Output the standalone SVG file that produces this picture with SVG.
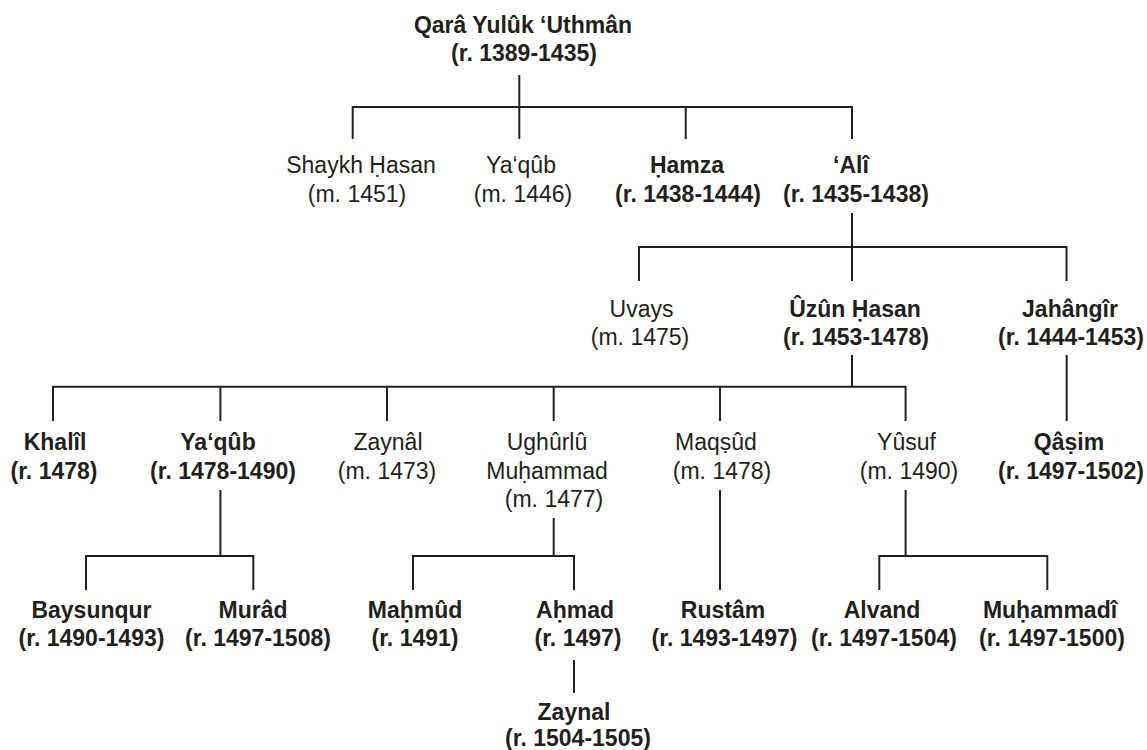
<svg xmlns="http://www.w3.org/2000/svg" width="1147" height="750" viewBox="0 0 1147 750">
<style>
text{font-family:"Liberation Sans",Arial,"DejaVu Sans",sans-serif;fill:#231f20;text-anchor:middle;font-size:23px}
.b{font-weight:bold}
.c{fill:none;stroke:#231f20;stroke-width:2;stroke-linejoin:miter}
</style>
<rect width="1147" height="750" fill="#fff"/>
<g id="connectors" class="c">
<path d="M519.3 75V107"/>
<path d="M352.7 139V107H852V139M519.3 107V139M685.7 107V139"/>
<path d="M852 213V247"/>
<path d="M639 281V247H1066.5V281M852 247V281"/>
<path d="M852 355V386.7"/>
<path d="M53 421V386.7H905.6V421M220.4 386.7V421M387 386.7V421M553.7 386.7V421M720 386.7V421"/>
<path d="M1066.7 355V421"/>
<path d="M220.4 490V556"/>
<path d="M86 590V556H253.3V590"/>
<path d="M553.7 518V556"/>
<path d="M413 590V556H574V590"/>
<path d="M720 490V590"/>
<path d="M905.6 490V556"/>
<path d="M879.3 590V556H1047.3V590"/>
<path d="M574 660V693"/>
</g>
<g id="qara-yuluk-uthman">
<text class="b" x="523" y="33">Qarâ Yulûk ‘Uthmân</text>
<text class="b" x="524" y="61">(r. 1389-1435)</text>
</g>
<g id="shaykh-hasan">
<text x="361" y="173">Shaykh Ḥasan</text>
<text x="357" y="201.5">(m. 1451)</text>
</g>
<g id="yaqub-1">
<text x="521" y="173">Ya‘qûb</text>
<text x="523" y="201.5">(m. 1446)</text>
</g>
<g id="hamza">
<text class="b" x="687" y="173">Ḥamza</text>
<text class="b" x="688" y="201.5">(r. 1438-1444)</text>
</g>
<g id="ali">
<text class="b" x="851" y="173">‘Alî</text>
<text class="b" x="856" y="201.5">(r. 1435-1438)</text>
</g>
<g id="uvays">
<text x="641.5" y="317">Uvays</text>
<text x="640" y="345">(m. 1475)</text>
</g>
<g id="uzun-hasan">
<text class="b" x="855" y="317">Ûzûn Ḥasan</text>
<text class="b" x="856" y="345">(r. 1453-1478)</text>
</g>
<g id="jahangir">
<text class="b" x="1070" y="317">Jahângîr</text>
<text class="b" x="1071" y="345">(r. 1444-1453)</text>
</g>
<g id="khalil">
<text class="b" x="55" y="450">Khalîl</text>
<text class="b" x="54" y="478.5">(r. 1478)</text>
</g>
<g id="yaqub-2">
<text class="b" x="218" y="450">Ya‘qûb</text>
<text class="b" x="223" y="478.5">(r. 1478-1490)</text>
</g>
<g id="zaynal-1">
<text x="388" y="450">Zaynâl</text>
<text x="387" y="478.5">(m. 1473)</text>
</g>
<g id="ughurlu-muhammad">
<text x="547" y="450">Ughûrlû</text>
<text x="547" y="478.5">Muḥammad</text>
<text x="554" y="507">(m. 1477)</text>
</g>
<g id="maqsud">
<text x="716" y="450">Maqṣûd</text>
<text x="722" y="478.5">(m. 1478)</text>
</g>
<g id="yusuf">
<text x="906.5" y="450">Yûsuf</text>
<text x="909" y="478.5">(m. 1490)</text>
</g>
<g id="qasim">
<text class="b" x="1069" y="450">Qâṣim</text>
<text class="b" x="1071" y="478.5">(r. 1497-1502)</text>
</g>
<g id="baysunqur">
<text class="b" x="91.5" y="618">Baysunqur</text>
<text class="b" x="91.5" y="646">(r. 1490-1493)</text>
</g>
<g id="murad">
<text class="b" x="253" y="618">Murâd</text>
<text class="b" x="258" y="646">(r. 1497-1508)</text>
</g>
<g id="mahmud">
<text class="b" x="415" y="618">Maḥmûd</text>
<text class="b" x="415" y="646">(r. 1491)</text>
</g>
<g id="ahmad">
<text class="b" x="575" y="618">Aḥmad</text>
<text class="b" x="578" y="646">(r. 1497)</text>
</g>
<g id="zaynal-2">
<text class="b" x="574" y="720">Zaynal</text>
<text class="b" x="578" y="746">(r. 1504-1505)</text>
</g>
<g id="rustam">
<text class="b" x="723" y="618">Rustâm</text>
<text class="b" x="724.5" y="646">(r. 1493-1497)</text>
</g>
<g id="alvand">
<text class="b" x="882" y="618">Alvand</text>
<text class="b" x="884" y="646">(r. 1497-1504)</text>
</g>
<g id="muhammadi">
<text class="b" x="1050" y="618">Muḥammadî</text>
<text class="b" x="1052" y="646">(r. 1497-1500)</text>
</g>
</svg>
